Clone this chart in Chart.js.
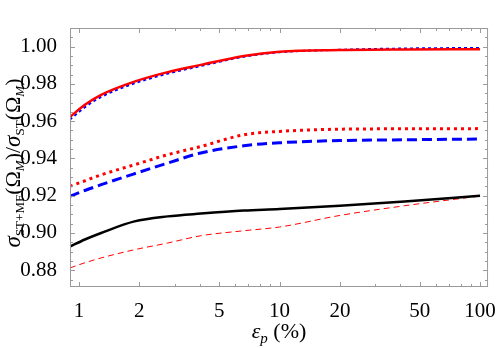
<!DOCTYPE html>
<html>
<head>
<meta charset="utf-8">
<script src="https://cdn.jsdelivr.net/npm/chart.js@4.4.0/dist/chart.umd.min.js"></script>
<style>
    html, body { margin: 0; padding: 0; background: #fff; }
    #wrap { width: 500px; height: 348px; }
</style>
</head>
<body>
<div id="wrap"><canvas id="chart" width="500" height="348"></canvas></div>
<script>
(function() {
    'use strict';

    // epsilon_p (%) sample points
    const epsValues = [0.9, 1.07, 1.29, 1.89, 2.77, 4.05, 6.64, 10, 20, 42, 100];

    // series
    const redSolid    = [0.9622, 0.9688, 0.9741, 0.9812, 0.9863, 0.9902, 0.9950, 0.9973, 0.9982, 0.9985, 0.9986];
    const blueDotted  = [0.9608, 0.9675, 0.9730, 0.9803, 0.9855, 0.9896, 0.9946, 0.9970, 0.9983, 0.9990, 0.9993];
    const redDotted   = [0.9250, 0.9280, 0.9312, 0.9366, 0.9420, 0.9464, 0.9527, 0.9545, 0.9557, 0.9559, 0.9560];
    const blueDashed  = [0.9196, 0.9228, 0.9259, 0.9318, 0.9375, 0.9429, 0.9468, 0.9484, 0.9496, 0.9500, 0.9504];
    const blackSolid  = [0.8927, 0.8965, 0.9000, 0.9062, 0.9089, 0.9104, 0.9120, 0.9128, 0.9146, 0.9169, 0.9200];
    const redThinDash = [0.8812, 0.8840, 0.8866, 0.8910, 0.8946, 0.8985, 0.9012, 0.9032, 0.9094, 0.9146, 0.9198];

    // tick values
    const xMajorTicks = [1, 2, 5, 10, 20, 50, 100];
    const xMinorTicks = [3, 4, 6, 7, 8, 9, 30, 40, 60, 70, 80, 90];
    const yMajorTicks = [0.88, 0.90, 0.92, 0.94, 0.96, 0.98, 1.00];
    const yMinorTicks = [0.875, 0.885, 0.89, 0.895, 0.905, 0.91, 0.915, 0.925, 0.93, 0.935,
                         0.945, 0.95, 0.955, 0.965, 0.97, 0.975, 0.985, 0.99, 0.995, 1.005, 1.01];

    const SERIF = '"Liberation Serif", "DejaVu Serif", serif';
    const frameColor = '#9a9a9a';

    function toPoints(values) {
        return values.map(function(v, i) { return { x: epsValues[i], y: v }; });
    }

    function lineSet(values, color, width, dash) {
        return {
            data: toPoints(values),
            borderColor: color,
            backgroundColor: color,
            borderWidth: width,
            borderDash: dash,
            pointRadius: 0,
            fill: false,
            cubicInterpolationMode: 'monotone'
        };
    }

    // Frame with inward ticks on all four sides, Mathematica style
    const framePlugin = {
        id: 'frame',
        afterDatasetsDraw(chart) {
            const ctx = chart.ctx;
            const a = chart.chartArea;
            const xs = chart.scales.x;
            const ys = chart.scales.y;
            ctx.save();
            ctx.strokeStyle = frameColor;
            ctx.lineWidth = 1;
            ctx.strokeRect(a.left + 0.5, a.top + 0.5, a.right - a.left - 1, a.bottom - a.top - 1);
            ctx.beginPath();
            function xTick(v, len) {
                const px = Math.round(xs.getPixelForValue(v)) + 0.5;
                ctx.moveTo(px, a.bottom); ctx.lineTo(px, a.bottom - len);
                ctx.moveTo(px, a.top); ctx.lineTo(px, a.top + len);
            }
            function yTick(v, len) {
                const py = Math.round(ys.getPixelForValue(v)) + 0.5;
                ctx.moveTo(a.left, py); ctx.lineTo(a.left + len, py);
                ctx.moveTo(a.right, py); ctx.lineTo(a.right - len, py);
            }
            xMajorTicks.forEach(v => xTick(v, 5));
            xMinorTicks.forEach(v => xTick(v, 3));
            yMajorTicks.forEach(v => yTick(v, 5));
            yMinorTicks.forEach(v => yTick(v, 3));
            ctx.stroke();
            ctx.restore();
        }
    };

    // Draw a run of text pieces: [text, size, italic, baselineShift], centred on x
    function drawRuns(ctx, runs, x, y) {
        let w = 0;
        runs.forEach(r => {
            ctx.font = (r[2] ? 'italic ' : '') + r[1] + 'px ' + SERIF;
            w += ctx.measureText(r[0]).width;
        });
        let cx = x - w / 2;
        runs.forEach(r => {
            ctx.font = (r[2] ? 'italic ' : '') + r[1] + 'px ' + SERIF;
            ctx.fillText(r[0], cx, y + r[3]);
            cx += ctx.measureText(r[0]).width;
        });
    }

    const titlePlugin = {
        id: 'titles',
        afterDraw(chart) {
            const ctx = chart.ctx;
            ctx.save();
            ctx.fillStyle = '#000';
            ctx.textBaseline = 'alphabetic';
            // x axis title
            drawRuns(ctx, [
                ['\u03b5', 22, true, 0],
                ['p', 15, true, 5],
                [' (%)', 22, false, 0]
            ], 279, 338);
            // y axis title, rotated
            ctx.translate(20, 163);
            ctx.rotate(-Math.PI / 2);
            drawRuns(ctx, [
                ['\u03c3', 23, true, 0],
                ['ST+MF', 13, false, 4],
                ['(\u03a9', 22, false, 0],
                ['M', 13, true, 4],
                [')/', 22, false, 0],
                ['\u03c3', 23, true, 0],
                ['ST', 13, false, 4],
                ['(\u03a9', 22, false, 0],
                ['M', 13, true, 4],
                [')', 22, false, 0]
            ], 0, 0);
            ctx.restore();
        }
    };

    const ctx = document.getElementById('chart').getContext('2d');
    new Chart(ctx, {
        type: 'line',
        data: {
            datasets: [
                lineSet(redSolid, '#ff0000', 2.5, []),
                lineSet(blueDotted, '#0000ff', 2, [3, 3]),
                lineSet(redDotted, '#ff0000', 3, [3, 4]),
                lineSet(blueDashed, '#0000ff', 3, [10, 5]),
                lineSet(blackSolid, '#000000', 2.5, []),
                lineSet(redThinDash, '#ff0000', 1, [6, 4])
            ]
        },
        options: {
            responsive: false,
            animation: false,
            layout: { padding: { top: 28, right: 10, left: 0, bottom: 0 } },
            plugins: {
                legend: { display: false },
                tooltip: { enabled: false }
            },
            scales: {
                x: {
                    type: 'logarithmic',
                    min: 0.902,
                    max: 109.6,
                    afterBuildTicks: function(scale) {
                        scale.ticks = xMajorTicks.map(v => ({ value: v }));
                    },
                    afterFit: function(scale) { scale.height = 61; },
                    ticks: {
                        autoSkip: false,
                        maxRotation: 0,
                        padding: 4,
                        color: '#000',
                        font: { family: SERIF, size: 21 },
                        callback: function(v) { return String(v); }
                    },
                    grid: { display: false },
                    border: { display: false }
                },
                y: {
                    type: 'linear',
                    min: 0.871,
                    max: 1.010,
                    afterBuildTicks: function(scale) {
                        scale.ticks = yMajorTicks.map(v => ({ value: v }));
                    },
                    afterFit: function(scale) { scale.width = 70; },
                    ticks: {
                        padding: 5,
                        color: '#000',
                        font: { family: SERIF, size: 21 },
                        callback: function(v) { return v.toFixed(2); }
                    },
                    grid: { display: false },
                    border: { display: false }
                }
            }
        },
        plugins: [framePlugin, titlePlugin]
    });
})();
</script>
</body>
</html>
